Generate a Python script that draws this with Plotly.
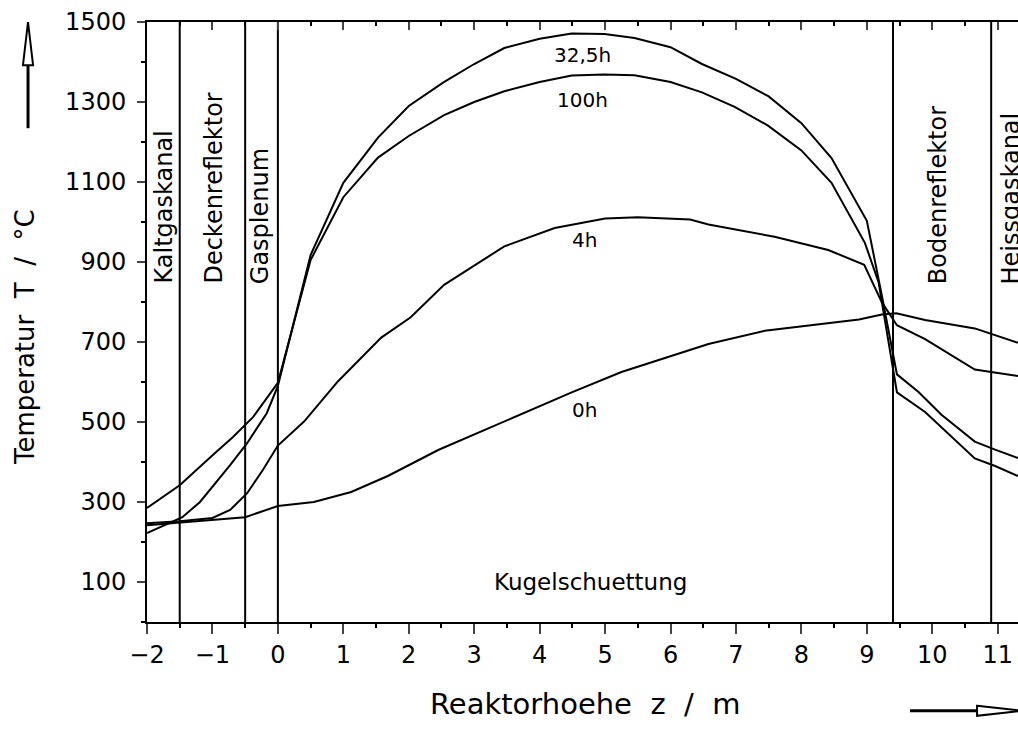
import plotly.graph_objects as go

FONT = "DejaVu Sans"

# ---- data ----
z_0h = [-2, -0.5, 0, 0.55, 1.12, 1.68, 2.45, 3.46, 4.49, 5.25, 6.32, 6.58, 7.44, 8.88, 9.23, 9.45, 9.89, 10.65, 11.31]
T_0h = [242, 262, 290, 300, 325, 365, 430, 502, 574, 625, 681, 695, 728, 756, 769, 772, 755, 734, 698]

z_4h = [-2, -1.5, -1, -0.73, -0.47, -0.23, 0, 0.4, 0.92, 1.58, 2.03, 2.54, 3.46, 4.23, 5.0, 5.5, 6.3, 6.58, 7.59, 8.41, 8.96, 9.23, 9.46, 9.89, 10.65, 11.31]
T_4h = [247, 252, 260, 280, 322, 380, 441, 501, 602, 711, 762, 843, 939, 985, 1009, 1012, 1006, 994, 963, 930, 893, 799, 742, 707, 631, 615]

z_32h = [-2, -1.46, -1.19, -0.73, -0.47, -0.17, 0, 0.5, 1.0, 1.53, 2.0, 2.53, 3.0, 3.46, 4.0, 4.49, 4.99, 5.45, 6.0, 6.48, 7.0, 7.5, 8.0, 8.46, 9.0, 9.23, 9.46, 9.79, 10.14, 10.65, 10.96, 11.31]
T_32h = [222, 262, 300, 392, 447, 522, 590, 917, 1098, 1211, 1290, 1349, 1395, 1435, 1458, 1471, 1470, 1460, 1437, 1395, 1358, 1314, 1247, 1160, 1003, 816, 619, 575, 518, 451, 431, 410]

z_100h = [-2, -1.5, -0.99, -0.69, -0.38, 0, 0.5, 1.0, 1.53, 2.0, 2.54, 3.0, 3.46, 4.0, 4.49, 4.99, 5.45, 6.0, 6.48, 6.98, 7.49, 8.0, 8.46, 8.97, 9.18, 9.46, 9.89, 10.65, 10.96, 11.31]
T_100h = [285, 342, 418, 462, 512, 598, 905, 1062, 1161, 1215, 1267, 1300, 1327, 1350, 1366, 1369, 1367, 1350, 1324, 1288, 1241, 1179, 1098, 948, 849, 574, 525, 409, 390, 365]

curve_names = ["0h", "4h", "32,5h", "100h"]
curve_z = [z_0h, z_4h, z_32h, z_100h]
curve_T = [T_0h, T_4h, T_32h, T_100h]

# curve labels
label_text = ["32,5h", "100h", "4h", "0h"]
label_z = [4.65, 4.65, 4.68, 4.68]
label_T = [1418, 1306, 955, 530]

# region boundaries and names
boundaries = [-1.5, -0.5, 0, 9.4, 10.9]
region_names = ["Kaltgaskanal", "Deckenreflektor", "Gasplenum", "Bodenreflektor", "Heissgaskanal"]
region_z = [-1.755, -0.99, -0.27, 10.09, 11.21]
region_T_base = 840
core_name = "Kugelschuettung"
core_z, core_T = 4.77, 100

x_range = [-2, 11.31]
y_range = [0, 1500]
x_ticks = list(range(-2, 12))
y_ticks = list(range(100, 1600, 200))

fig = go.Figure()

for name, zz, tt in zip(curve_names, curve_z, curve_T):
    fig.add_trace(go.Scatter(x=zz, y=tt, mode="lines", name=name,
                             line=dict(color="black", width=2), showlegend=False,
                             hoverinfo="skip"))

for b in boundaries:
    fig.add_trace(go.Scatter(x=[b, b], y=y_range, mode="lines",
                             line=dict(color="black", width=2), showlegend=False,
                             hoverinfo="skip"))

# invisible trace for top axis
fig.add_trace(go.Scatter(x=x_range, y=y_range, xaxis="x2", mode="lines",
                         line=dict(width=0), showlegend=False, hoverinfo="skip"))

for t, zx, ty in zip(label_text, label_z, label_T):
    fig.add_annotation(x=zx, y=ty, text=t, showarrow=False,
                       font=dict(family=FONT, size=20, color="black"))

for t, zx in zip(region_names, region_z):
    fig.add_annotation(x=zx, y=region_T_base, text=t, showarrow=False, textangle=-90,
                       xanchor="center", yanchor="bottom",
                       font=dict(family=FONT, size=24, color="black"))

fig.add_annotation(x=core_z, y=core_T, text=core_name, showarrow=False,
                   font=dict(family=FONT, size=23, color="black"))

# axis titles
fig.add_annotation(xref="paper", yref="paper", x=-0.140, y=0.475,
                   xanchor="center", yanchor="middle",
                   text="Temperatur\u00a0 T\u00a0 /\u00a0 °C", showarrow=False, textangle=-90,
                   font=dict(family=FONT, size=26, color="black"))
fig.add_annotation(xref="paper", yref="paper", x=0.503, y=-0.137,
                   xanchor="center", yanchor="middle",
                   text="Reaktorhoehe\u00a0 z\u00a0 /\u00a0 m", showarrow=False,
                   font=dict(family=FONT, size=29, color="black"))

# arrows (decorative)
fig.add_shape(type="line", xref="paper", yref="paper", x0=-0.1366, x1=-0.1366,
              y0=0.823, y1=0.928, line=dict(color="black", width=3))
fig.add_shape(type="path", xref="paper", yref="paper",
              path="M -0.1424 0.928 L -0.1366 1.0 L -0.1308 0.928 Z",
              fillcolor="white", line=dict(color="black", width=2))
fig.add_shape(type="line", xref="paper", yref="paper", x0=0.876, x1=0.953,
              y0=-0.148, y1=-0.148, line=dict(color="black", width=3))
fig.add_shape(type="path", xref="paper", yref="paper",
              path="M 0.953 -0.1397 L 1.005 -0.148 L 0.953 -0.1563 Z",
              fillcolor="white", line=dict(color="black", width=2))

fig.update_layout(
    width=1018, height=730,
    margin=dict(l=147, r=0, t=22, b=108),
    paper_bgcolor="white", plot_bgcolor="white",
    font=dict(family=FONT, color="black"),
    xaxis=dict(range=x_range, tickvals=x_ticks, ticks="outside", ticklen=10, tickwidth=2,
               showline=True, linewidth=2, linecolor="black", showgrid=False, zeroline=False,
               tickfont=dict(family=FONT, size=24, color="black"),
               minor=dict(dtick=0.5, tick0=0, ticks="outside", ticklen=4, tickwidth=1.5,
                          tickcolor="black", showgrid=False)),
    xaxis2=dict(range=x_range, overlaying="x", side="top", tickvals=x_ticks, ticks="inside",
                ticklen=8, tickwidth=2, showticklabels=False, showline=True, linewidth=2,
                linecolor="black", showgrid=False, zeroline=False,
                minor=dict(dtick=0.5, tick0=0, ticks="inside", ticklen=4, tickwidth=1.5,
                           tickcolor="black", showgrid=False)),
    yaxis=dict(range=y_range, tickvals=y_ticks, ticks="outside", ticklen=8, tickwidth=2,
               showline=True, linewidth=2, linecolor="black", showgrid=False, zeroline=False,
               tickfont=dict(family=FONT, size=24, color="black"), ticklabelstandoff=6,
               minor=dict(dtick=100, tick0=0, ticks="outside", ticklen=4, tickwidth=1.5,
                          tickcolor="black", showgrid=False)),
)

fig.write_html("out.html")
